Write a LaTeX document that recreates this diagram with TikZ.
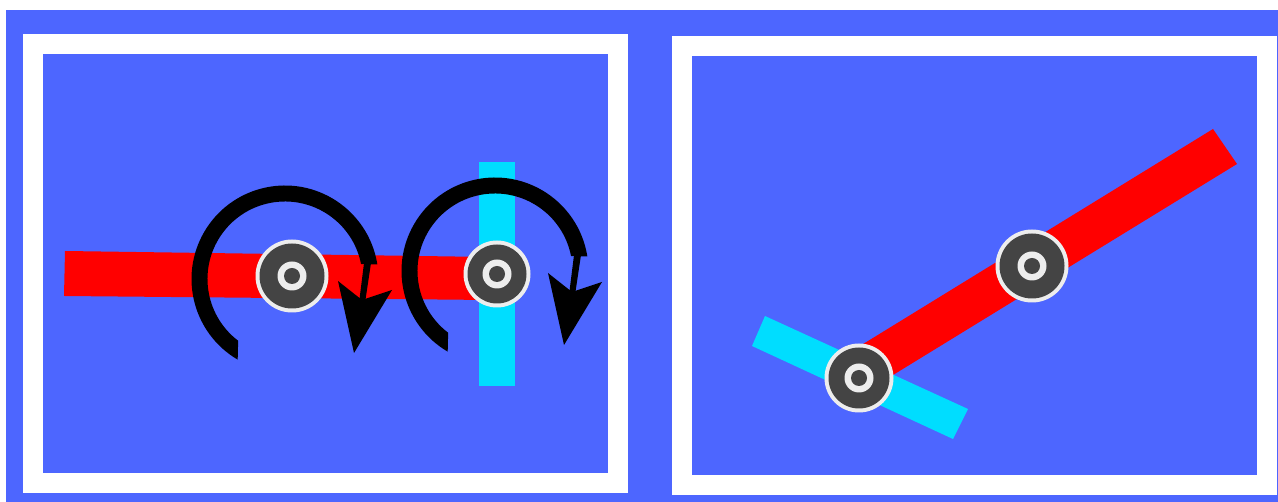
\documentclass[tikz,border=0pt]{standalone}
\usetikzlibrary{calc}
\definecolor{panelBlue}{HTML}{4D66FF}
\definecolor{armRed}{HTML}{FF0000}
\definecolor{armCyan}{HTML}{00DDFF}
\definecolor{hubDark}{HTML}{444444}
\definecolor{hubRing}{HTML}{EDEDED}

\tikzset{
  frame/.style={draw=white,line width=0.4cm,fill=panelBlue},
  spinarrow/.pic={
    \fill[black] (120.4:93.5) arc[start angle=120.4,end angle=351,radius=93.5]
      -- (349:77.5) arc[start angle=349,end angle=127.2,radius=77.5] -- cycle;
    \fill[black] (79,-16) -- (86,-16) -- (80,24) -- (74,24) -- cycle;
    \fill[black] (69,74) -- (53,2) -- (77,21) -- (107,11) -- cycle;
  },
}

\begin{document}
\begin{tikzpicture}[x=0.02cm,y=-0.02cm]
  \useasboundingbox (0,0) rectangle (1278,502);
  \fill[white] (0,0) rectangle (1278,502);
  \fill[panelBlue] (6,10) rectangle (1278,502);

  % Two panels
  \draw[frame] (33,44) rectangle (618,483.5);
  \draw[frame] (681.5,46) rectangle (1266.5,485.5);

  % Left panel: arms
  \fill[armCyan] (479,162) rectangle (515,386);
  \fill[armRed] (65,251) -- (490,257) -- (490,300) -- (64,296) -- cycle;

  % Right panel: arms
  \fill[armCyan] (765,316) -- (968,409) -- (953,439) -- (752,346) -- cycle;
  \fill[armRed] (855,349) -- (1213,129) -- (1237,164) -- (880,383) -- cycle;

  % Hubs
  \foreach \hubx/\huby/\hubr in {292/276/36.5,497/274/33.5,1032/266/36.5,859/378/34.5} {
    \coordinate (H) at (\hubx,\huby);
    \fill[hubRing] (H) circle (\hubr);
    \fill[hubDark] (H) circle (\hubr-4);
    \fill[hubRing] (H) circle (14.5);
    \fill[hubDark] (H) circle (8);
  }

  % Spin arrows
  \pic at (285,279) {spinarrow};
  \pic at (495,271) {spinarrow};
\end{tikzpicture}
\end{document}
